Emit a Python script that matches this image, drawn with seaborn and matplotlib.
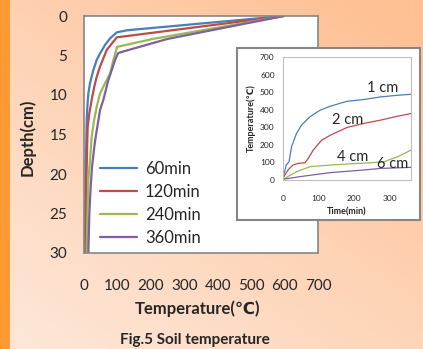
import numpy as np
import matplotlib
matplotlib.use("Agg")
import matplotlib.pyplot as plt
import seaborn as sns
import pandas as pd
from matplotlib.patches import Rectangle

sns.set_style("white")
plt.rcParams['font.family'] = ['Lato', 'DejaVu Sans']

# main chart: soil temperature profile (depth vs temperature)
depth_60 = [0, 1.8, 2.07, 2.83, 3.67, 4.73, 5.57, 6.84, 8.5, 9.8, 11.5, 13.2, 20, 30]
temp_60 = [598, 130, 98, 78, 63, 48, 38, 28, 18, 13, 10, 8, 5, 3]
depth_120 = [0, 2.7, 4.3, 6.4, 7.7, 8.9, 10.6, 12.3, 14, 19.1, 30]
temp_120 = [598, 98, 68, 48, 38, 31, 23, 16, 11, 8, 4]
depth_240 = [0, 2.9, 3.5, 3.9, 5.57, 7.3, 8.5, 9.8, 11.5, 13.2, 15.3, 18.2, 20.8, 25.4, 30]
temp_240 = [598, 206, 143, 99, 88, 78, 63, 48, 38, 30, 23, 18, 13, 10, 8]
depth_360 = [0, 2.9, 4.5, 4.7, 5.57, 6.84, 8.1, 8.9, 10.6, 11.9, 14, 15.3, 16.5, 19.1, 21.6, 25, 30]
temp_360 = [598, 250, 117, 102, 93, 83, 73, 68, 58, 48, 40, 35, 31, 24, 20, 16, 13]
series_names = ['60min', '120min', '240min', '360min']

# inset: temperature vs time at several depths
time_1 = [0, 9, 17, 24, 38, 52, 76, 104, 133, 180, 227, 275, 322, 360]
inset_1 = [10, 85, 104, 189, 265, 312, 360, 397, 420, 448, 458, 473, 482, 488]
time_2 = [0, 14, 28, 43, 62, 71, 85, 109, 133, 180, 227, 275, 322, 360]
inset_2 = [10, 57, 85, 95, 98, 123, 170, 227, 255, 299, 322, 341, 363, 378]
time_4 = [0, 38, 76, 133, 180, 246, 284, 322, 360]
inset_4 = [4, 47, 76, 85, 91, 98, 104, 132, 170]
time_6 = [0, 47, 133, 227, 275, 360]
inset_6 = [4, 19, 42, 57, 66, 72]
inset_names = ['1 cm', '2 cm', '4 cm', '6 cm']

colors = ['#4A7EBB', '#BE4B48', '#98B954', '#7D60A0']

W, H = 423, 349
fig = plt.figure(figsize=(W / 100, H / 100), dpi=100)

# background gradient
bg = fig.add_axes([0, 0, 1, 1], zorder=-10)
xs = np.linspace(0, 1, W)
ys = np.linspace(0, 1, H)
X, Y = np.meshgrid(xs, ys)
w = np.clip(0.5 * (1 - X) + 0.6 * Y - 0.05, 0, 1)[..., None]
dark = np.array([255, 192, 148]) / 255
light = np.array([253, 230, 215]) / 255
img = dark * (1 - w) + light * w
img[:, :10] = np.array([255, 153, 51]) / 255
bg.imshow(img, aspect='auto', extent=[0, 1, 0, 1], origin='upper')
bg.axis('off')

# main axes
ax = fig.add_axes([84 / W, (H - 253) / H, (318 - 84) / W, (253 - 16) / H])
ax.set_facecolor('white')
profiles = [(depth_60, temp_60), (depth_120, temp_120), (depth_240, temp_240), (depth_360, temp_360)]
for (d, t), name, c in zip(profiles, series_names, colors):
    df = pd.DataFrame({'Temperature': t, 'Depth': d})
    sns.lineplot(data=df, x='Temperature', y='Depth', sort=False, color=c, lw=1.6,
                 label=name, ax=ax, estimator=None)
ax.set_xlim(0, 700)
ax.set_ylim(30, 0)
ax.set_xticks(range(0, 701, 100))
ax.set_yticks(range(0, 31, 5))
ax.tick_params(axis='x', length=0, pad=19, labelsize=11)
ax.tick_params(axis='y', length=0, pad=12, labelsize=11)
for s in ax.spines.values():
    s.set_color('#868686')
    s.set_linewidth(1.2)
ax.set_xlabel('Temperature(℃)', fontsize=12, fontweight='bold')
ax.set_ylabel('Depth(cm)', fontsize=12, fontweight='bold')
ax.xaxis.set_label_coords(0.483, -0.2)
ax.yaxis.set_label_coords(-0.205, 0.49)
ax.legend(loc='upper left', bbox_to_anchor=((100 - 84) / 234, 0.39), frameon=False,
          fontsize=12, handlelength=2.2, handletextpad=0.5, labelspacing=0.42,
          borderpad=0, borderaxespad=0)

# inset box
fig.add_artist(Rectangle((237 / W, (H - 220) / H), (420 - 237) / W, (220 - 48) / H,
                         transform=fig.transFigure, facecolor='white',
                         edgecolor='#868686', lw=1.5, zorder=5))

ins = fig.add_axes([283 / W, (H - 180) / H, (411 - 283) / W, (180 - 57) / H], zorder=6)
ins.set_facecolor('white')
curves = [(time_1, inset_1), (time_2, inset_2), (time_4, inset_4), (time_6, inset_6)]
for (t, v), c in zip(curves, colors):
    sns.lineplot(x=t, y=v, color=c, lw=0.9, ax=ins, estimator=None)
ins.set_xlim(0, 360)
ins.set_ylim(0, 700)
ins.set_xticks([0, 100, 200, 300])
ins.set_yticks(range(0, 701, 100))
ins.tick_params(axis='x', length=0, labelsize=6, pad=11)
ins.tick_params(axis='y', length=0, labelsize=6, pad=6)
for s in ins.spines.values():
    s.set_color('#BFBFBF')
    s.set_linewidth(0.8)
ins.set_xlabel('Time(min)', fontsize=6.5, fontweight='bold', labelpad=4)
ins.set_ylabel('Temperature(℃)', fontsize=6.5, fontweight='bold', labelpad=3)
label_pos = [(281, 524), (183, 341), (197, 131), (309, 91)]
for name, (tx, ty) in zip(inset_names, label_pos):
    ins.text(tx, ty, name, fontsize=10.5, ha='center', va='center')

fig.text(195 / W, 1 - 340 / H, 'Fig.5 Soil temperature', fontsize=11, fontweight='bold',
         ha='center', va='center')

fig.savefig('out.png', dpi=100)
